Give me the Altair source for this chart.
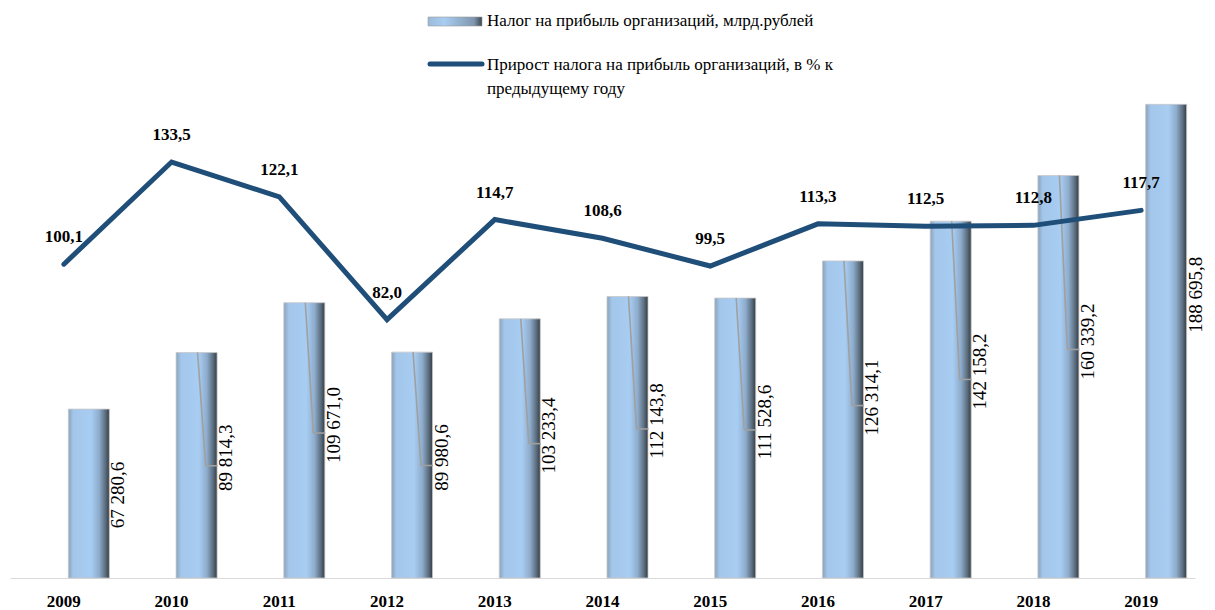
import altair as alt
import pandas as pd

years = ["2009", "2010", "2011", "2012", "2013", "2014", "2015", "2016", "2017", "2018", "2019"]
tax = [67280.6, 89814.3, 109671.0, 89980.6, 103233.4, 112143.8, 111528.6, 126314.1, 142158.2, 160339.2, 188695.8]
tax_labels = ["67 280,6", "89 814,3", "109 671,0", "89 980,6", "103 233,4", "112 143,8",
              "111 528,6", "126 314,1", "142 158,2", "160 339,2", "188 695,8"]
growth = [100.1, 133.5, 122.1, 82.0, 114.7, 108.6, 99.5, 113.3, 112.5, 112.8, 117.7]
growth_labels = ["100,1", "133,5", "122,1", "82,0", "114,7", "108,6", "99,5", "113,3", "112,5", "112,8", "117,7"]
has_leader = [False, True, True, True, True, True, True, True, True, True, False]

legend_bar_text = "Налог на прибыль организаций, млрд.рублей"
legend_line_text = ["Прирост налога на прибыль организаций, в % к", "предыдущему году"]

FONT = "Liberation Serif"

df = pd.DataFrame({
    "year": years,
    "tax": tax,
    "tax_label": tax_labels,
    "growth": growth,
    "growth_label": growth_labels,
    "leader": has_leader,
})

W, H = 1185, 497
bar_scale = alt.Scale(domain=[0, 198000], nice=False, zero=False)
line_scale = alt.Scale(domain=[-2.5, 160], nice=False, zero=False)

x_enc = alt.X(
    "year:N", sort=None,
    scale=alt.Scale(type="band", paddingInner=0, paddingOuter=0),
    axis=alt.Axis(title=None, labelAngle=0, ticks=False, grid=False,
                  domainColor="#d9d9d9", domainWidth=1.2,
                  labelFont=FONT, labelFontWeight="bold", labelFontSize=17,
                  labelColor="#000000", labelPadding=15),
)

base = alt.Chart(df)

bar_fill = alt.Gradient(
    gradient="linear", x1=0, x2=1, y1=0, y2=0,
    stops=[
        alt.GradientStop(color="#8aa3bb", offset=0),
        alt.GradientStop(color="#a3c6ea", offset=0.12),
        alt.GradientStop(color="#a8cdf2", offset=0.55),
        alt.GradientStop(color="#8eaccc", offset=0.75),
        alt.GradientStop(color="#5d6f80", offset=0.9),
        alt.GradientStop(color="#333d47", offset=1),
    ],
)

bars = base.mark_bar(size=41, xOffset=25, fill=bar_fill, stroke="#c8c8c8", strokeWidth=0.8).encode(
    x=x_enc,
    y=alt.Y("tax:Q", scale=bar_scale, axis=None),
)

lab = base.transform_calculate(label_y="datum.tax * 0.657 - 11100")

leader_v = lab.transform_filter("datum.leader").transform_calculate(
    end_y="datum.label_y - 3200"
).mark_rule(color="#a0a0a0", strokeWidth=1.6, xOffset=26, x2Offset=34).encode(
    x=alt.X("year:N", sort=None),
    x2="year:N",
    y=alt.Y("tax:Q", scale=bar_scale, axis=None),
    y2="end_y:Q",
)

leader_h = lab.transform_filter("datum.leader").transform_calculate(
    end_y="datum.label_y - 3200"
).mark_rule(color="#a0a0a0", strokeWidth=1.6, xOffset=34, x2Offset=46).encode(
    x=alt.X("year:N", sort=None),
    x2="year:N",
    y=alt.Y("end_y:Q", scale=bar_scale, axis=None),
)

bar_text = lab.mark_text(angle=270, font=FONT, fontSize=19, color="#000000",
                         align="center", baseline="middle", xOffset=54.5).encode(
    x=alt.X("year:N", sort=None),
    y=alt.Y("label_y:Q", scale=bar_scale, axis=None),
    text="tax_label:N",
)

line = base.mark_line(color="#1F4E79", strokeWidth=5, strokeCap="round", strokeJoin="miter").encode(
    x=alt.X("year:N", sort=None),
    y=alt.Y("growth:Q", scale=line_scale, axis=None),
)

line_text = base.mark_text(font=FONT, fontSize=17, fontWeight="bold", color="#000000",
                           align="center", baseline="middle", dy=-27).encode(
    x=alt.X("year:N", sort=None),
    y=alt.Y("growth:Q", scale=line_scale, axis=None),
    text="growth_label:N",
)

# Legend
one = alt.Chart(pd.DataFrame({"k": [0]}))
leg_bar = one.mark_rect(fill=alt.Gradient(
    gradient="linear", x1=0, x2=1, y1=0, y2=0,
    stops=[alt.GradientStop(color="#9bbad8", offset=0),
           alt.GradientStop(color="#a8cdf2", offset=0.3),
           alt.GradientStop(color="#7f97ae", offset=0.85),
           alt.GradientStop(color="#3a4550", offset=1)]),
    stroke="#9a9a9a", strokeWidth=0.6).encode(
    x=alt.value(418), x2=alt.value(472), y=alt.value(-64), y2=alt.value(-55),
)
leg_bar_t = one.mark_text(font=FONT, fontSize=17, align="left", baseline="middle", color="#000000").encode(
    x=alt.value(477), y=alt.value(-60), text=alt.value(legend_bar_text),
)
leg_line = one.mark_rule(color="#1F4E79", strokeWidth=5, strokeCap="round").encode(
    x=alt.value(420), x2=alt.value(472), y=alt.value(-17),
)
leg_line_t1 = one.mark_text(font=FONT, fontSize=17, align="left", baseline="middle", color="#000000").encode(
    x=alt.value(477), y=alt.value(-16), text=alt.value(legend_line_text[0]),
)
leg_line_t2 = one.mark_text(font=FONT, fontSize=17, align="left", baseline="middle", color="#000000").encode(
    x=alt.value(477), y=alt.value(8), text=alt.value(legend_line_text[1]),
)

chart = alt.layer(
    bars, leader_v, leader_h, line, bar_text, line_text,
    leg_bar, leg_bar_t, leg_line, leg_line_t1, leg_line_t2,
).resolve_scale(y="independent").properties(
    width=W, height=H,
    autosize=alt.AutoSizeParams(type="none"),
    padding={"left": 2, "top": 73, "right": 12, "bottom": 32},
    background="#ffffff",
).configure_view(stroke=None)

chart.save("out.html", embed_options={"renderer": "svg", "actions": False})
